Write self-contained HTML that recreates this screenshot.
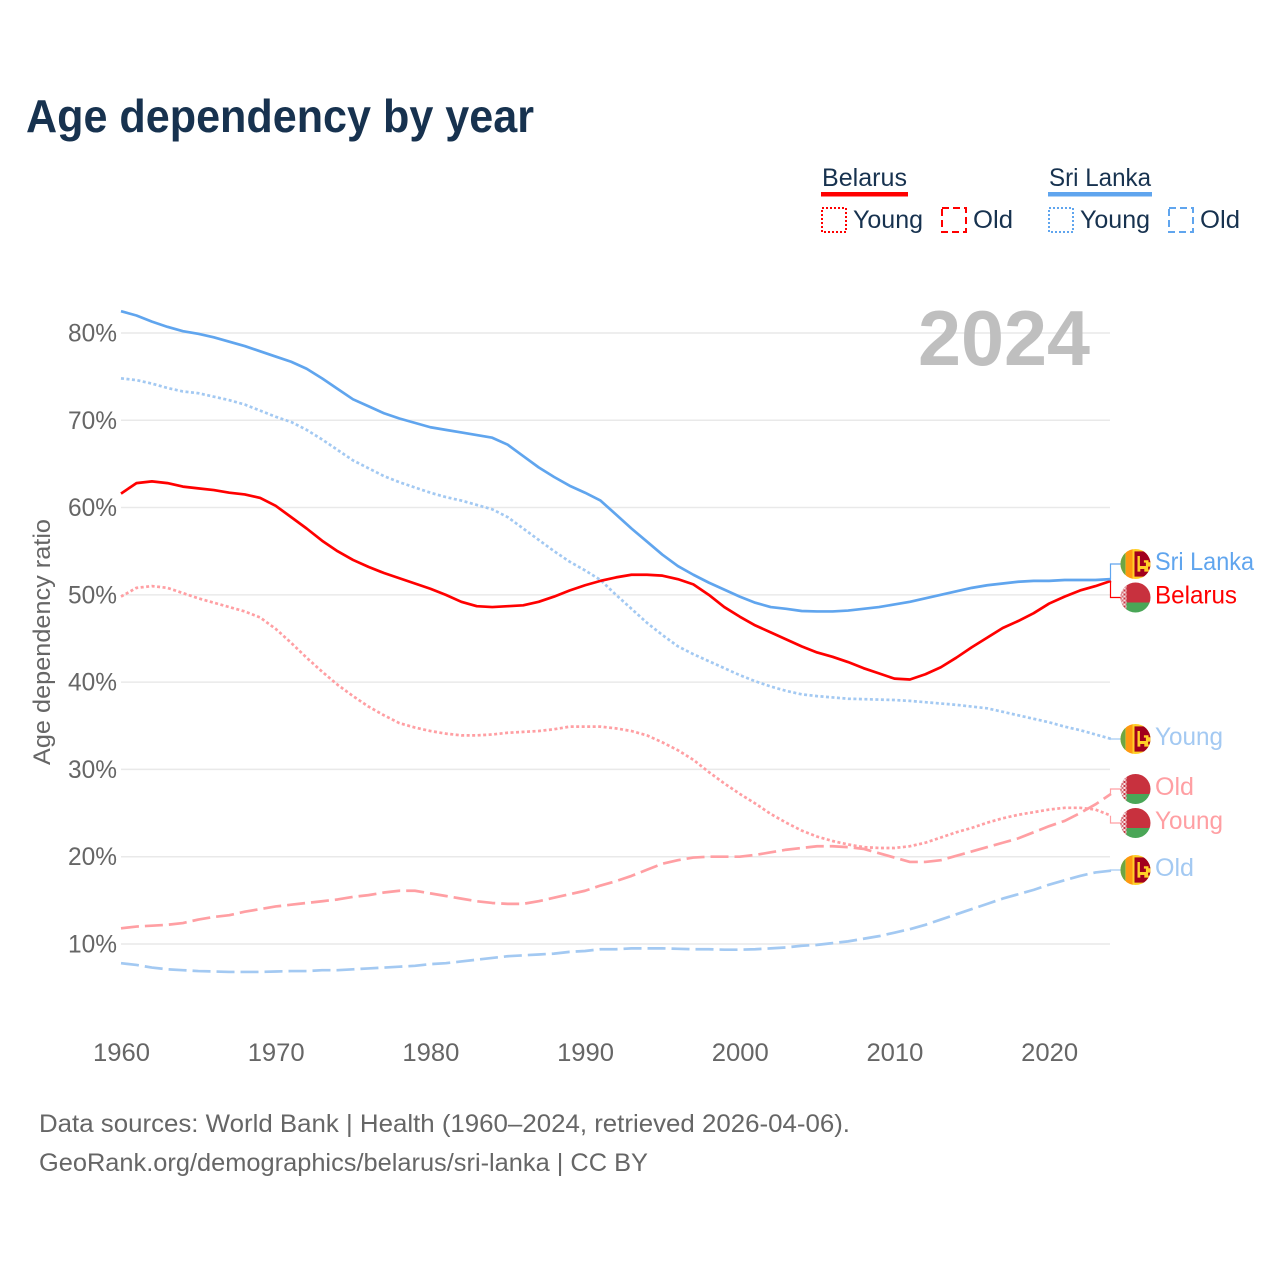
<!DOCTYPE html>
<html lang="en">
<head>
<meta charset="utf-8">
<title>Age dependency by year</title>
<style>
html,body{margin:0;padding:0;background:#fff;width:1280px;height:1280px;overflow:hidden}
svg{display:block}
text{font-family:"Liberation Sans",sans-serif}
</style>
</head>
<body>
<svg id="chart" xmlns="http://www.w3.org/2000/svg" width="1280" height="1280" viewBox="0 0 1280 1280">
  <defs>
    <clipPath id="flag-clip"><circle cx="0" cy="0" r="15"/></clipPath>
    <pattern id="ornament" width="4" height="4" patternUnits="userSpaceOnUse">
      <rect width="4" height="4" fill="#f6e4e6"/>
      <rect x="0" y="0" width="2" height="2" fill="#c8313e"/>
      <rect x="2" y="2" width="2" height="2" fill="#d9707a"/>
    </pattern>
    <g id="flag-by">
      <g clip-path="url(#flag-clip)">
        <rect x="-16" y="-16" width="32" height="21" fill="#c8313e"/>
        <rect x="-16" y="5" width="32" height="11" fill="#4aa657"/>
        <rect x="-16" y="-16" width="7" height="32" fill="url(#ornament)"/>
      </g>
    </g>
    <g id="flag-lk">
      <g clip-path="url(#flag-clip)">
        <rect x="-16" y="-16" width="32" height="32" fill="#ffd028"/>
        <rect x="-16" y="-16" width="6" height="32" fill="#6da544"/>
        <rect x="-9.6" y="-16" width="6.6" height="32" fill="#ff9811"/>
        <rect x="-1" y="-12.6" width="17" height="25.2" fill="#a2001d"/>
        <path d="M2 -8h2.4v10h6v-3.4h-2v-2.4h4.6v2h2.2v4.4h-2.6v3h1.8v2h-5.6v-2.6h-4v2.6h-2.8z" fill="#ffd028"/>
      </g>
    </g>
  </defs>

  <text x="26" y="132" font-size="46" font-weight="700" fill="#17324f" textLength="508" lengthAdjust="spacingAndGlyphs">Age dependency by year</text>

  <g font-size="25" fill="#17324f">
    <text x="822" y="186" textLength="85" lengthAdjust="spacingAndGlyphs">Belarus</text>
    <rect x="821" y="192" width="87" height="4.5" fill="#ff0000"/>
    <text x="1049" y="186" textLength="102" lengthAdjust="spacingAndGlyphs">Sri Lanka</text>
    <rect x="1048" y="192" width="104" height="4.5" fill="#60a5ee"/>

    <rect x="822" y="208" width="24" height="24" fill="none" stroke="#ff0000" stroke-width="2" stroke-dasharray="2 2"/>
    <text x="853" y="228" textLength="70" lengthAdjust="spacingAndGlyphs">Young</text>
    <rect x="942" y="208" width="24" height="24" fill="none" stroke="#ff0000" stroke-width="2" stroke-dasharray="7 4"/>
    <text x="973" y="228" textLength="40" lengthAdjust="spacingAndGlyphs">Old</text>

    <rect x="1049" y="208" width="24" height="24" fill="none" stroke="#60a5ee" stroke-width="2" stroke-dasharray="2 2"/>
    <text x="1080" y="228" textLength="70" lengthAdjust="spacingAndGlyphs">Young</text>
    <rect x="1169" y="208" width="24" height="24" fill="none" stroke="#60a5ee" stroke-width="2" stroke-dasharray="7 4"/>
    <text x="1200" y="228" textLength="40" lengthAdjust="spacingAndGlyphs">Old</text>
  </g>

  <g id="grid"></g>
  <text x="918" y="365" font-size="78" font-weight="700" fill="#bfbfbf" textLength="172" lengthAdjust="spacingAndGlyphs">2024</text>
  <g id="y-axis"></g>
  <g id="x-axis"></g>
  <text transform="translate(50 642) rotate(-90)" text-anchor="middle" font-size="24" fill="#666666" textLength="246" lengthAdjust="spacingAndGlyphs">Age dependency ratio</text>
  <g id="series"></g>
  <g id="end-labels"></g>

  <text x="39" y="1132" font-size="25" fill="#666666" textLength="811" lengthAdjust="spacingAndGlyphs">Data sources: World Bank | Health (1960–2024, retrieved 2026-04-06).</text>
  <text x="39" y="1171" font-size="25" fill="#666666" textLength="609" lengthAdjust="spacingAndGlyphs">GeoRank.org/demographics/belarus/sri-lanka | CC BY</text>
</svg>

<script>
const firstYear = 1960;
const xTicks = [1960, 1970, 1980, 1990, 2000, 2010, 2020];
const yTicks = [10, 20, 30, 40, 50, 60, 70, 80];

const sriLankaTotal = [
  82.5, 82.0, 81.3, 80.7, 80.2, 79.9, 79.5, 79.0, 78.5, 77.9,
  77.3, 76.7, 75.9, 74.8, 73.6, 72.4, 71.6, 70.8, 70.2, 69.7,
  69.2, 68.9, 68.6, 68.3, 68.0, 67.2, 65.9, 64.6, 63.5, 62.5,
  61.7, 60.8, 59.2, 57.6, 56.1, 54.6, 53.3, 52.3, 51.4, 50.6,
  49.8, 49.1, 48.6, 48.4, 48.15, 48.1, 48.1, 48.2, 48.4, 48.6,
  48.9, 49.2, 49.6, 50.0, 50.4, 50.8, 51.1, 51.3, 51.5, 51.6,
  51.6, 51.7, 51.7, 51.7, 51.8
];
const sriLankaYoung = [
  74.8, 74.6, 74.2, 73.7, 73.3, 73.1, 72.7, 72.3, 71.8, 71.1,
  70.4, 69.8, 68.9, 67.8, 66.6, 65.4, 64.5, 63.6, 62.9, 62.3,
  61.7, 61.2, 60.8, 60.3, 59.8, 58.9, 57.6, 56.3, 55.0, 53.8,
  52.8, 51.7, 50.0, 48.4, 46.8, 45.4, 44.1, 43.2, 42.4, 41.6,
  40.8, 40.1, 39.5, 39.0, 38.6, 38.4, 38.25, 38.1, 38.05, 38.0,
  37.95, 37.85, 37.7, 37.55, 37.4, 37.2, 37.0, 36.6, 36.2, 35.8,
  35.4, 34.9, 34.5, 34.0, 33.5
];
const sriLankaOld = [
  7.8, 7.6, 7.3, 7.1, 7.0, 6.9, 6.85, 6.8, 6.8, 6.8,
  6.85, 6.9, 6.9, 7.0, 7.0, 7.1, 7.2, 7.3, 7.4, 7.5,
  7.7, 7.8, 8.0, 8.2, 8.4, 8.6, 8.7, 8.8, 8.9, 9.1,
  9.2, 9.4, 9.4, 9.5, 9.5, 9.5, 9.45, 9.4, 9.4, 9.35,
  9.35, 9.4, 9.5, 9.6, 9.8, 9.9, 10.1, 10.3, 10.6, 10.9,
  11.3, 11.7, 12.2, 12.8, 13.4, 14.0, 14.6, 15.2, 15.7, 16.2,
  16.8, 17.3, 17.8, 18.2, 18.4
];
const belarusTotal = [
  61.6, 62.8, 63.0, 62.8, 62.4, 62.2, 62.0, 61.7, 61.5, 61.1,
  60.2, 58.9, 57.6, 56.2, 55.0, 54.0, 53.2, 52.5, 51.9, 51.3,
  50.7, 50.0, 49.2, 48.7, 48.6, 48.7, 48.8, 49.2, 49.8, 50.5,
  51.1, 51.6, 52.0, 52.3, 52.3, 52.2, 51.8, 51.2, 50.0, 48.6,
  47.5, 46.5, 45.7, 44.9, 44.1, 43.4, 42.9, 42.3, 41.6, 41.0,
  40.4, 40.3, 40.9, 41.7, 42.8, 44.0, 45.1, 46.2, 47.0, 47.9,
  49.0, 49.8, 50.5, 51.0, 51.6
];
const belarusYoung = [
  49.8, 50.8, 51.0, 50.8, 50.2, 49.6, 49.1, 48.6, 48.1, 47.4,
  46.1, 44.5, 42.8, 41.2, 39.7, 38.4, 37.2, 36.2, 35.3, 34.8,
  34.4, 34.1, 33.9, 33.9, 34.0, 34.2, 34.3, 34.4, 34.6, 34.9,
  34.9, 34.9, 34.7, 34.4, 33.9, 33.1, 32.2, 31.1, 29.7, 28.4,
  27.2, 26.1, 24.9, 23.9, 23.0, 22.3, 21.8, 21.4, 21.1, 21.0,
  21.0, 21.2, 21.6, 22.2, 22.8, 23.3, 23.9, 24.4, 24.8, 25.1,
  25.4, 25.6, 25.6, 25.4, 24.7
];
const belarusOld = [
  11.8, 12.0, 12.1, 12.2, 12.4, 12.8, 13.1, 13.3, 13.7, 14.0,
  14.3, 14.5, 14.7, 14.9, 15.1, 15.4, 15.6, 15.9, 16.1, 16.1,
  15.8, 15.5, 15.2, 14.9, 14.7, 14.6, 14.6, 14.9, 15.3, 15.7,
  16.1, 16.7, 17.2, 17.8, 18.5, 19.2, 19.6, 19.9, 20.0, 20.0,
  20.0, 20.2, 20.5, 20.8, 21.0, 21.2, 21.2, 21.1, 20.9, 20.4,
  19.9, 19.4, 19.4, 19.6, 20.1, 20.6, 21.1, 21.6, 22.1, 22.8,
  23.5, 24.1, 25.0, 26.0, 27.2
];

const NS = 'http://www.w3.org/2000/svg';
const xScale = function (year) { return 121 + (year - 1960) * (990 / 64); };
const yScale = function (v) { return 944 - (v - 10) * 8.729; };

function make(parent, tag, attrs, text) {
  const el = document.createElementNS(NS, tag);
  for (const k in attrs) el.setAttribute(k, attrs[k]);
  if (text !== undefined) el.textContent = text;
  parent.appendChild(el);
  return el;
}

const gridG = document.getElementById('grid');
const yG = document.getElementById('y-axis');
const xG = document.getElementById('x-axis');
const seriesG = document.getElementById('series');
const endG = document.getElementById('end-labels');

yTicks.forEach(function (t) {
  const line = make(gridG, 'line', { x1: 121, x2: 1110, y1: yScale(t), y2: yScale(t), stroke: '#e9e9e9', 'stroke-width': 1.5 });
  
  
  const label = make(yG, 'text', { x: 117, y: yScale(t) + 8.5, 'text-anchor': 'end', 'font-size': 25, fill: '#666666', textLength: 49, lengthAdjust: 'spacingAndGlyphs' }, t + '%');
  
  
});

xTicks.forEach(function (t) {
  const label = make(xG, 'text', { x: xScale(t) + 0.5, y: 1061, 'text-anchor': 'middle', 'font-size': 25, fill: '#666666', textLength: 57, lengthAdjust: 'spacingAndGlyphs' }, String(t));
  
  
});

function drawSeries(name, values, color, dash, width) {
  const d = values.map(function (v, i) {
    return (i ? 'L' : 'M') + xScale(firstYear + i).toFixed(2) + ' ' + yScale(v).toFixed(2);
  }).join('');
  const attrs = { d: d, fill: 'none', stroke: color, 'stroke-width': width, 'stroke-linejoin': 'round' };
  if (dash) attrs['stroke-dasharray'] = dash;
  const path = make(seriesG, 'path', attrs);
  
  
}

const DOT = '3 2.5';
const DASH = '18 6';
drawSeries('line-belarus-old', belarusOld, '#ff9fa3', DASH, 2.7);
drawSeries('line-belarus-young', belarusYoung, '#ff9fa3', DOT, 2.7);
drawSeries('line-srilanka-old', sriLankaOld, '#a3c9f2', DASH, 2.7);
drawSeries('line-srilanka-young', sriLankaYoung, '#a3c9f2', DOT, 2.7);
drawSeries('line-belarus-total', belarusTotal, '#ff0000', null, 2.7);
drawSeries('line-srilanka-total', sriLankaTotal, '#60a5ee', null, 2.7);

function endLabel(name, values, labelText, color, flag, cy, labelW) {
  const ey = yScale(values[values.length - 1]);
  const conn = make(endG, 'path', { d: 'M1110.5 ' + ey.toFixed(1) + 'V' + cy + 'H1121', fill: 'none', stroke: color, 'stroke-width': 1.2 });
  
  
  const icon = make(endG, 'use', { href: '#' + flag, transform: 'translate(1135.5 ' + cy + ')' });
  
  
  const label = make(endG, 'text', { x: 1155, y: cy + 6, 'font-size': 25, fill: color, textLength: labelW, lengthAdjust: 'spacingAndGlyphs' }, labelText);
  
  
}

endLabel('end-srilanka-total', sriLankaTotal, 'Sri Lanka', '#60a5ee', 'flag-lk', 564, 99);
endLabel('end-belarus-total', belarusTotal, 'Belarus', '#ff0000', 'flag-by', 597.5, 82);
endLabel('end-srilanka-young', sriLankaYoung, 'Young', '#a3c9f2', 'flag-lk', 739, 68);
endLabel('end-belarus-old', belarusOld, 'Old', '#ff9fa3', 'flag-by', 789, 39);
endLabel('end-belarus-young', belarusYoung, 'Young', '#ff9fa3', 'flag-by', 823, 68);
endLabel('end-srilanka-old', sriLankaOld, 'Old', '#a3c9f2', 'flag-lk', 870, 39);
</script>
</body>
</html>
